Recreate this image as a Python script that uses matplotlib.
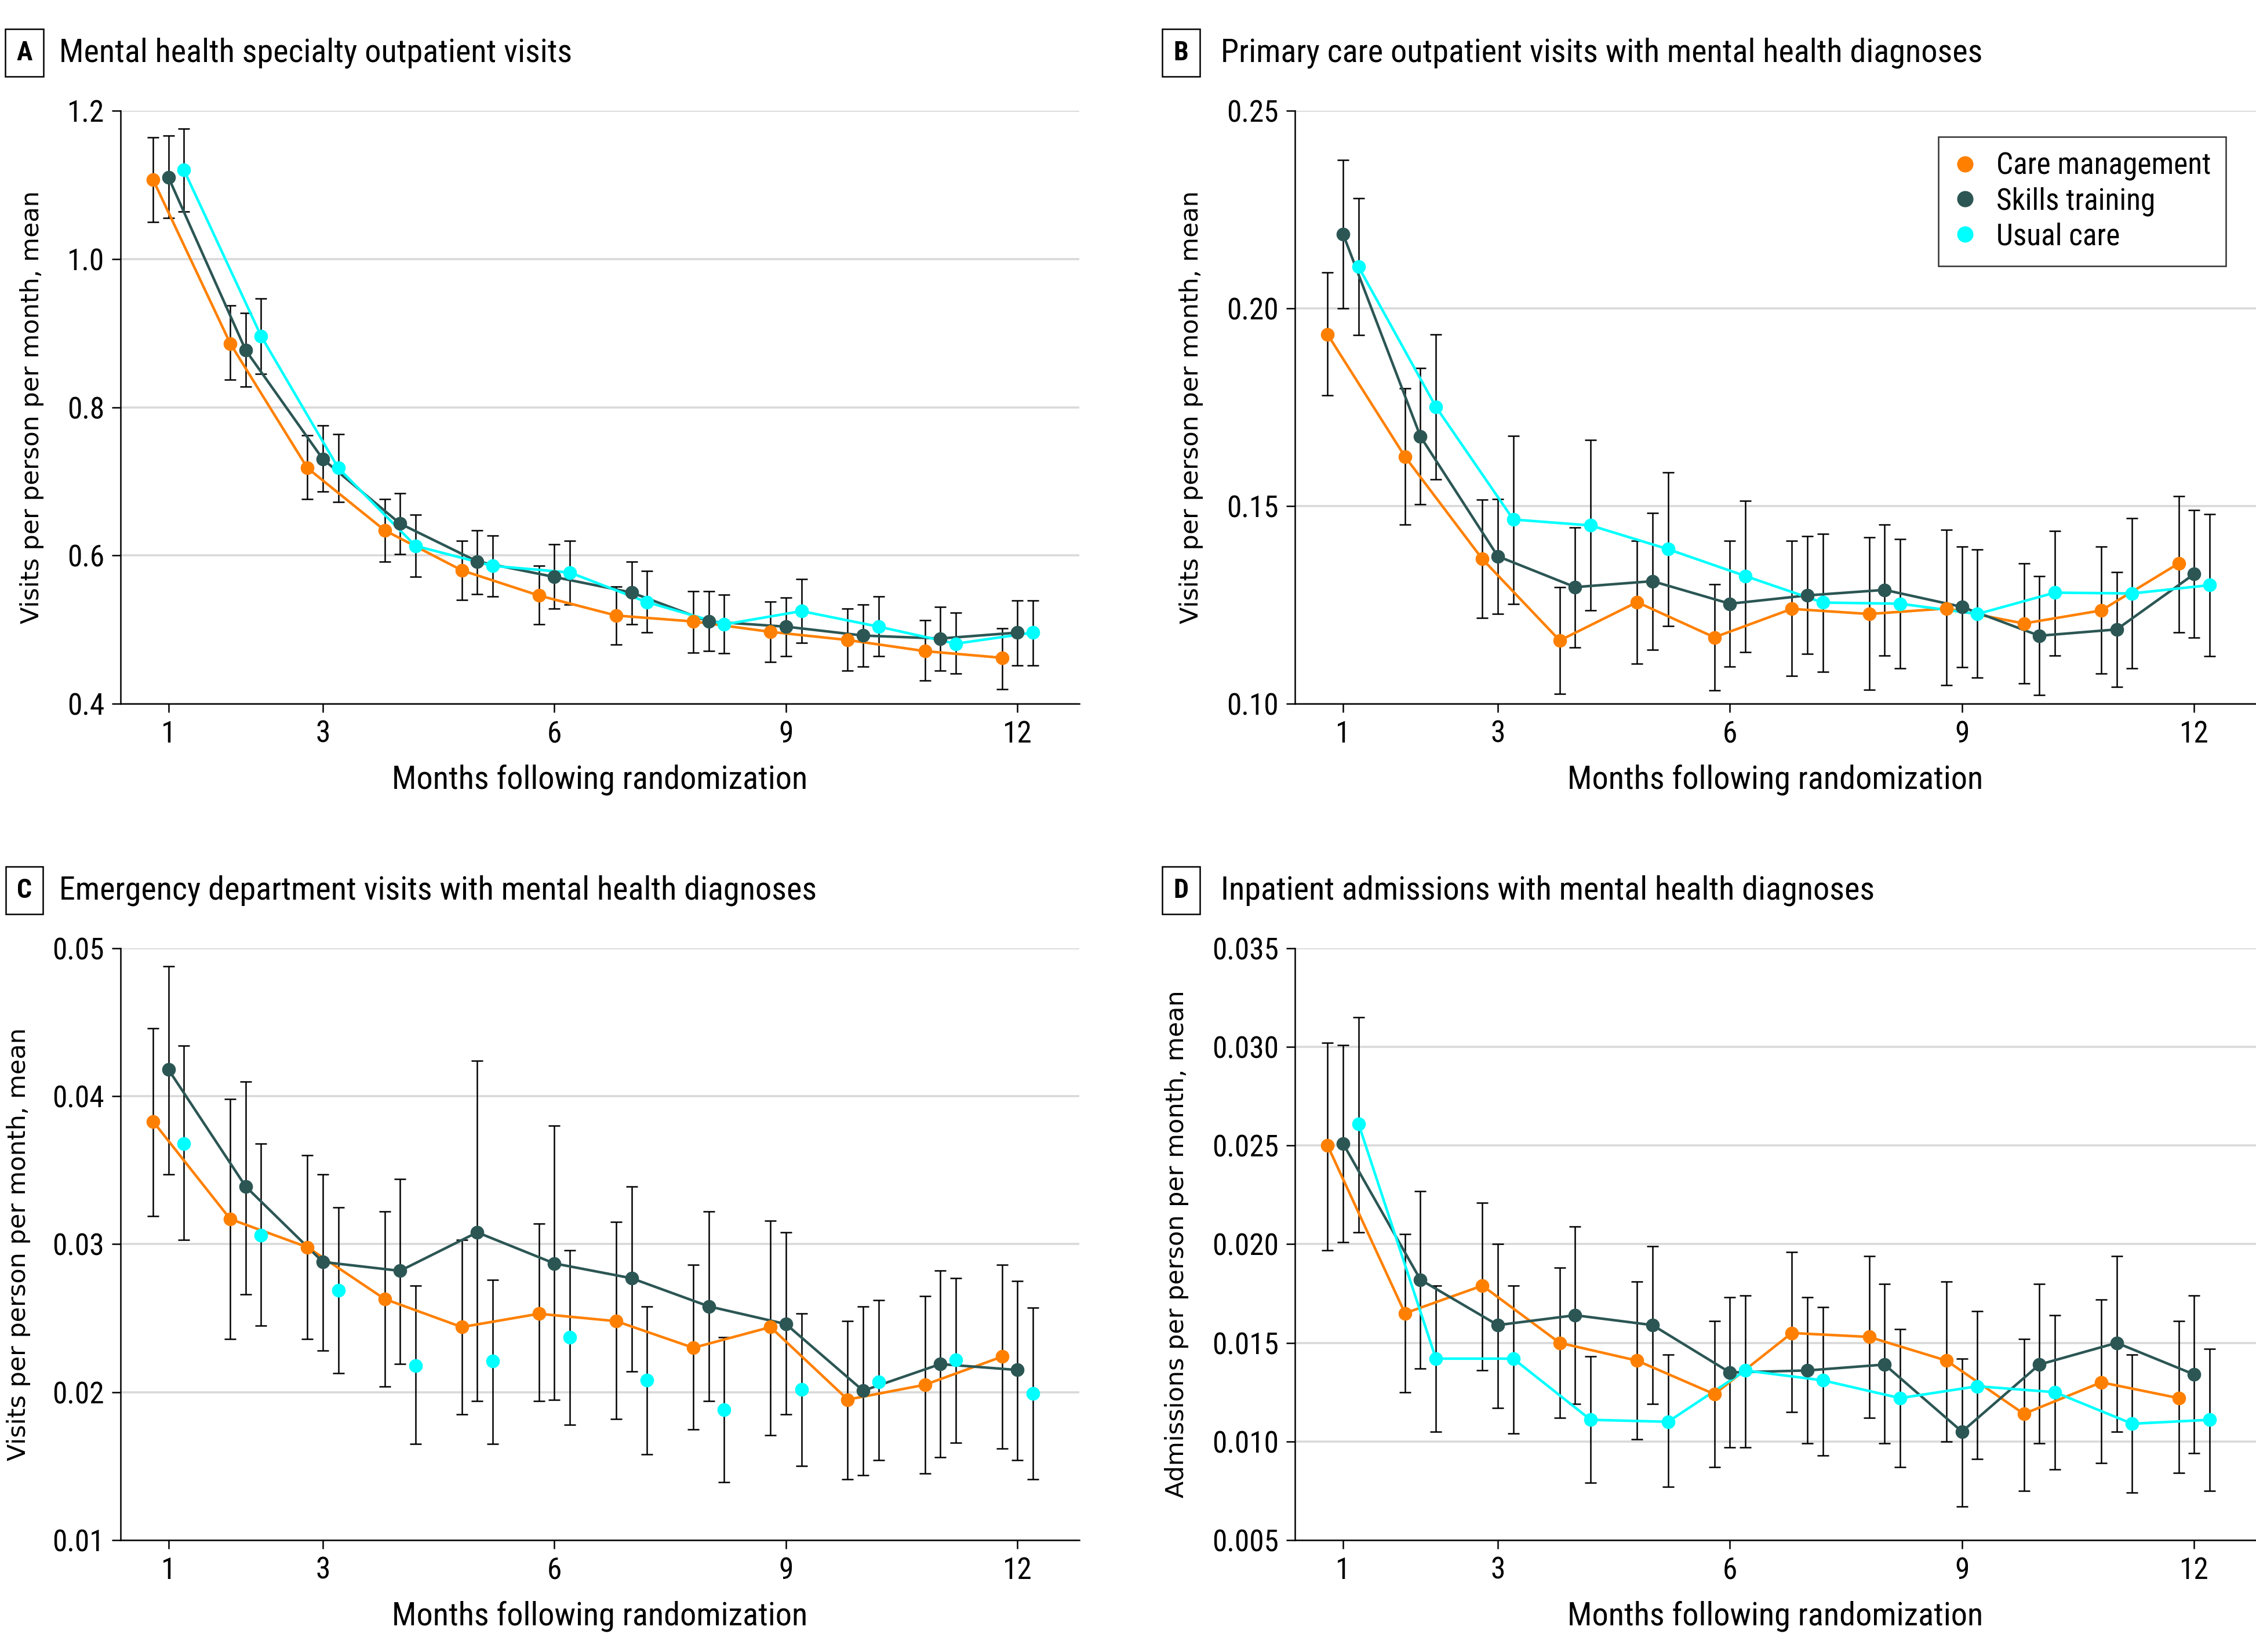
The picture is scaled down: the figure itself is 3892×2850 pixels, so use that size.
import numpy as np
import matplotlib
matplotlib.use("Agg")
import matplotlib.pyplot as plt
from matplotlib import font_manager

# look for a condensed face, the reference uses a narrow sans
fm = font_manager.fontManager
names = {f.name for f in fm.ttflist}
main_font, main_stretch = None, 'normal'
for cand in ['Roboto Condensed', 'Liberation Sans Narrow', 'Noto Sans Condensed',
             'Open Sans Condensed', 'DejaVu Sans Condensed']:
    if cand in names:
        main_font = cand
        break
if main_font is None:
    for fam in ['DejaVu Sans', 'Noto Sans', 'Open Sans', 'Roboto']:
        if any(f.name == fam and f.stretch in ('condensed', 'semi-condensed', 'extra-condensed', 75, 87.5)
               for f in fm.ttflist):
            main_font, main_stretch = fam, 'condensed'
            break
if main_font is None:
    main_font = 'Roboto'

plt.rcParams['font.family'] = [main_font, 'DejaVu Sans']
plt.rcParams['font.stretch'] = main_stretch

months = np.arange(1, 13)
xticks = [1, 3, 6, 9, 12]
groups = ['Care management', 'Skills training', 'Usual care']
colors = ['#ff8000', '#2b5654', '#00ffff']

# A - mental health specialty outpatient visits
a_cm = [1.107, 0.886, 0.718, 0.634, 0.580, 0.546, 0.519, 0.511, 0.497, 0.486, 0.471, 0.462]
a_cm_lo = [1.050, 0.837, 0.676, 0.592, 0.540, 0.507, 0.480, 0.469, 0.456, 0.445, 0.431, 0.420]
a_cm_hi = [1.164, 0.937, 0.762, 0.676, 0.620, 0.586, 0.558, 0.552, 0.538, 0.528, 0.513, 0.502]
a_st = [1.110, 0.877, 0.730, 0.643, 0.592, 0.571, 0.550, 0.511, 0.504, 0.492, 0.488, 0.496]
a_st_lo = [1.055, 0.828, 0.686, 0.602, 0.548, 0.528, 0.507, 0.471, 0.464, 0.450, 0.445, 0.452]
a_st_hi = [1.166, 0.927, 0.775, 0.684, 0.634, 0.615, 0.592, 0.552, 0.543, 0.534, 0.531, 0.539]
a_uc = [1.120, 0.896, 0.718, 0.613, 0.586, 0.577, 0.537, 0.507, 0.525, 0.504, 0.481, 0.496]
a_uc_lo = [1.064, 0.845, 0.672, 0.571, 0.545, 0.534, 0.496, 0.468, 0.482, 0.464, 0.441, 0.452]
a_uc_hi = [1.176, 0.947, 0.764, 0.655, 0.627, 0.620, 0.579, 0.547, 0.568, 0.545, 0.523, 0.539]

# B - primary care outpatient visits
b_cm = [0.1934, 0.1625, 0.1366, 0.1160, 0.1257, 0.1168, 0.1240, 0.1227, 0.1241, 0.1203, 0.1236, 0.1355]
b_cm_lo = [0.1780, 0.1453, 0.1217, 0.1025, 0.1102, 0.1034, 0.1070, 0.1036, 0.1047, 0.1051, 0.1076, 0.1180]
b_cm_hi = [0.2091, 0.1798, 0.1516, 0.1295, 0.1412, 0.1302, 0.1412, 0.1421, 0.1440, 0.1355, 0.1397, 0.1525]
b_st = [0.2188, 0.1676, 0.1373, 0.1295, 0.1310, 0.1253, 0.1274, 0.1288, 0.1245, 0.1172, 0.1188, 0.1328]
b_st_lo = [0.2000, 0.1505, 0.1228, 0.1143, 0.1136, 0.1094, 0.1126, 0.1122, 0.1092, 0.1022, 0.1042, 0.1167]
b_st_hi = [0.2375, 0.1849, 0.1517, 0.1446, 0.1483, 0.1412, 0.1424, 0.1453, 0.1397, 0.1322, 0.1333, 0.1490]
b_uc = [0.2105, 0.1751, 0.1466, 0.1451, 0.1391, 0.1323, 0.1256, 0.1253, 0.1227, 0.1281, 0.1279, 0.1300]
b_uc_lo = [0.1933, 0.1568, 0.1252, 0.1236, 0.1196, 0.1130, 0.1081, 0.1090, 0.1066, 0.1122, 0.1089, 0.1120]
b_uc_hi = [0.2278, 0.1934, 0.1678, 0.1667, 0.1585, 0.1514, 0.1430, 0.1416, 0.1390, 0.1437, 0.1470, 0.1480]

# C - emergency department visits
c_cm = [0.0383, 0.0317, 0.0298, 0.0263, 0.0244, 0.0253, 0.0248, 0.0230, 0.0244, 0.0195, 0.0205, 0.0224]
c_cm_lo = [0.0319, 0.0236, 0.0236, 0.0204, 0.0185, 0.0194, 0.0182, 0.0175, 0.0171, 0.0141, 0.0145, 0.0162]
c_cm_hi = [0.0446, 0.0398, 0.0360, 0.0322, 0.0303, 0.0314, 0.0315, 0.0286, 0.0316, 0.0248, 0.0265, 0.0286]
c_st = [0.0418, 0.0339, 0.0288, 0.0282, 0.0308, 0.0287, 0.0277, 0.0258, 0.0246, 0.0201, 0.0219, 0.0215]
c_st_lo = [0.0347, 0.0266, 0.0228, 0.0219, 0.0194, 0.0195, 0.0214, 0.0194, 0.0185, 0.0144, 0.0156, 0.0154]
c_st_hi = [0.0488, 0.0410, 0.0347, 0.0344, 0.0424, 0.0380, 0.0339, 0.0322, 0.0308, 0.0258, 0.0282, 0.0275]
c_uc = [0.0368, 0.0306, 0.0269, 0.0218, 0.0221, 0.0237, 0.0208, 0.0188, 0.0202, 0.0207, 0.0222, 0.0199]
c_uc_lo = [0.0303, 0.0245, 0.0213, 0.0165, 0.0165, 0.0178, 0.0158, 0.0139, 0.0150, 0.0154, 0.0166, 0.0141]
c_uc_hi = [0.0434, 0.0368, 0.0325, 0.0272, 0.0276, 0.0296, 0.0258, 0.0237, 0.0253, 0.0262, 0.0277, 0.0257]

# D - inpatient admissions
d_cm = [0.0250, 0.0165, 0.0179, 0.0150, 0.0141, 0.0124, 0.0155, 0.0153, 0.0141, 0.0114, 0.0130, 0.0122]
d_cm_lo = [0.0197, 0.0125, 0.0136, 0.0112, 0.0101, 0.0087, 0.0115, 0.0112, 0.0100, 0.0075, 0.0089, 0.0084]
d_cm_hi = [0.0302, 0.0205, 0.0221, 0.0188, 0.0181, 0.0161, 0.0196, 0.0194, 0.0181, 0.0152, 0.0172, 0.0161]
d_st = [0.0251, 0.0182, 0.0159, 0.0164, 0.0159, 0.0135, 0.0136, 0.0139, 0.0105, 0.0139, 0.0150, 0.0134]
d_st_lo = [0.0201, 0.0137, 0.0117, 0.0119, 0.0119, 0.0097, 0.0099, 0.0099, 0.0067, 0.0099, 0.0105, 0.0094]
d_st_hi = [0.0301, 0.0227, 0.0200, 0.0209, 0.0199, 0.0173, 0.0173, 0.0180, 0.0142, 0.0180, 0.0194, 0.0174]
d_uc = [0.0261, 0.0142, 0.0142, 0.0111, 0.0110, 0.0136, 0.0131, 0.0122, 0.0128, 0.0125, 0.0109, 0.0111]
d_uc_lo = [0.0206, 0.0105, 0.0104, 0.0079, 0.0077, 0.0097, 0.0093, 0.0087, 0.0091, 0.0086, 0.0074, 0.0075]
d_uc_hi = [0.0315, 0.0179, 0.0179, 0.0143, 0.0144, 0.0174, 0.0168, 0.0157, 0.0166, 0.0164, 0.0144, 0.0147]

panels = [
    dict(letter='A', title='Mental health specialty outpatient visits',
         ylabel='Visits per person per month, mean',
         yticks=[0.4, 0.6, 0.8, 1.0, 1.2], fmt='{:.1f}',
         series=[(a_cm, a_cm_lo, a_cm_hi), (a_st, a_st_lo, a_st_hi), (a_uc, a_uc_lo, a_uc_hi)],
         lines=[True, True, True], pos=[0.0534, 0.574, 0.4250, 0.359], ylx=-0.0925),
    dict(letter='B', title='Primary care outpatient visits with mental health diagnoses',
         ylabel='Visits per person per month, mean',
         yticks=[0.10, 0.15, 0.20, 0.25], fmt='{:.2f}',
         series=[(b_cm, b_cm_lo, b_cm_hi), (b_st, b_st_lo, b_st_hi), (b_uc, b_uc_lo, b_uc_hi)],
         lines=[True, True, True], pos=[0.574, 0.574, 0.426, 0.359], ylx=-0.108),
    dict(letter='C', title='Emergency department visits with mental health diagnoses',
         ylabel='Visits per person per month, mean',
         yticks=[0.01, 0.02, 0.03, 0.04, 0.05], fmt='{:.2f}',
         series=[(c_cm, c_cm_lo, c_cm_hi), (c_st, c_st_lo, c_st_hi), (c_uc, c_uc_lo, c_uc_hi)],
         lines=[True, True, False], pos=[0.0534, 0.0677, 0.4250, 0.3583], ylx=-0.106),
    dict(letter='D', title='Inpatient admissions with mental health diagnoses',
         ylabel='Admissions per person per month, mean',
         yticks=[0.005, 0.010, 0.015, 0.020, 0.025, 0.030, 0.035], fmt='{:.3f}',
         series=[(d_cm, d_cm_lo, d_cm_hi), (d_st, d_st_lo, d_st_hi), (d_uc, d_uc_lo, d_uc_hi)],
         lines=[True, True, True], pos=[0.574, 0.0677, 0.426, 0.3583], ylx=-0.123),
]

offsets = [-0.2, 0.0, 0.2]

fig = plt.figure(figsize=(38.92, 28.5), dpi=100)

for p in panels:
    ax = fig.add_axes(p['pos'])
    for (vals, lo, hi), col, off, ln, name in zip(p['series'], colors, offsets, p['lines'], groups):
        x = months + off
        vals = np.array(vals)
        yerr = [vals - np.array(lo), np.array(hi) - vals]
        ax.errorbar(x, vals, yerr=yerr, fmt='none', ecolor='black', elinewidth=1.8,
                    capsize=7, capthick=1.8, zorder=2)
        if ln:
            ax.plot(x, vals, color=col, lw=3.2, zorder=3)
        ax.plot(x, vals, 'o', color=col, ms=16, mec=col, zorder=4, label=name)

    ax.set_xlim(0.378, 12.8)
    ax.set_ylim(p['yticks'][0], p['yticks'][-1])
    ax.set_xticks(xticks)
    ax.set_yticks(p['yticks'])
    ax.set_yticklabels([p['fmt'].format(v) for v in p['yticks']])
    ax.tick_params(axis='both', direction='out', length=11, width=1.8, labelsize=37, pad=9)
    ax.yaxis.grid(True, color='#d9d9d9', lw=2.6)
    ax.set_axisbelow(True)
    for s in ['top', 'right']:
        ax.spines[s].set_visible(False)
    for s in ['left', 'bottom']:
        ax.spines[s].set_linewidth(1.8)
    ax.set_xlabel('Months following randomization', fontsize=40.5)
    ax.xaxis.set_label_coords(0.5, -0.102)
    ax.set_ylabel(p['ylabel'], fontsize=31, family='DejaVu Sans', stretch='normal')
    ax.yaxis.label.set_va('center')
    ax.yaxis.set_label_coords(p['ylx'], 0.5)

    # panel letter box and title
    l, b, w, h = p['pos']
    ty = b + h + 0.035
    fig.text(0.0108 if l < 0.3 else 0.5235, ty, p['letter'], fontsize=33, fontweight='bold',
             ha='center', va='center',
             bbox=dict(boxstyle='square,pad=0.42', fc='white', ec='black', lw=1.8))
    fig.text(0.0262 if l < 0.3 else 0.541, ty, p['title'], fontsize=40.5, ha='left', va='center')

    if p['letter'] == 'B':
        leg = ax.legend(loc='upper right', bbox_to_anchor=(0.9686, 0.956), borderaxespad=0,
                        fontsize=37, frameon=True, fancybox=False, edgecolor='black',
                        handlelength=0.8, handletextpad=0.65, borderpad=0.5,
                        labelspacing=0.2, markerscale=1.2)
        leg.get_frame().set_linewidth(1.8)

fig.savefig('out.png', dpi=100)
